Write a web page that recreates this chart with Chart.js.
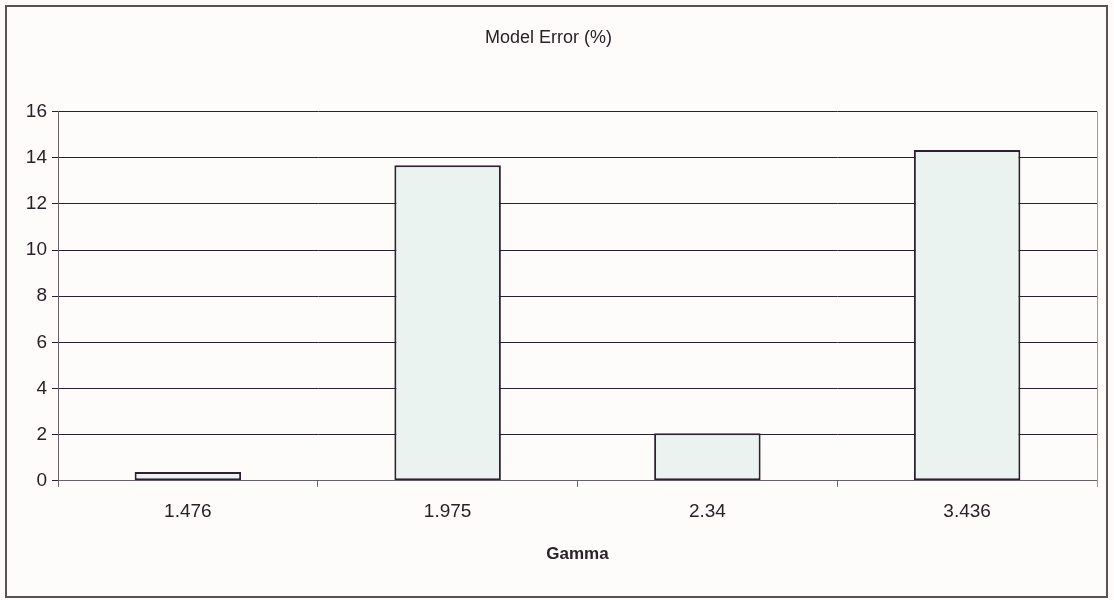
<!DOCTYPE html>
<html>
<head>
<meta charset="utf-8">
<script src="https://cdn.jsdelivr.net/npm/chart.js@4/dist/chart.umd.min.js"></script>
<style>
	html, body { margin: 0; padding: 0; background: #fdfcfb; }
	canvas { display: block; }
</style>
</head>
<body>
<canvas id="errors" width="1114" height="600"></canvas>
<script>
const categories = ['1.476', '1.975', '2.34', '3.436'];
const modelError = [0.38, 13.68, 2.06, 14.34];
const yMin = 0;
const yMax = 16;
const yStep = 2;

const textColor = '#2a2028';
const gridColor = '#2a2030';
const axisColor = '#6a6068';

// background, outer frame and right edge of the plot area
const frame = {
	id: 'frame',
	beforeDraw(chart) {
		const ctx = chart.ctx;
		ctx.save();
		ctx.fillStyle = '#fdfcfb';
		ctx.fillRect(0, 0, chart.width, chart.height);
		ctx.strokeStyle = '#5a5058';
		ctx.lineWidth = 2;
		ctx.strokeRect(6, 6, chart.width - 13, chart.height - 9);
		ctx.restore();
	},
	afterDatasetsDraw(chart) {
		const {ctx, chartArea} = chart;
		ctx.save();
		ctx.strokeStyle = '#a09898';
		ctx.lineWidth = 1;
		ctx.beginPath();
		ctx.moveTo(chartArea.right + 0.5, chartArea.top);
		ctx.lineTo(chartArea.right + 0.5, chartArea.bottom + 6);
		ctx.stroke();
		ctx.restore();
	}
};

const data_errors = {
	labels: categories,
	datasets: [
		{
			label: 'Model Error (%)',
			data: modelError,
			backgroundColor: '#eaf3f0',
			borderColor: '#2e2030',
			borderWidth: 2,
			borderSkipped: false,
			barPercentage: 0.41,
			categoryPercentage: 1.0,
		},
	]
};

const config_errors = {
	type: 'bar',
	data: data_errors,
	options: {
		responsive: false,
		animation: false,
		layout: {
			padding: { left: 0, right: 17, top: 0, bottom: 0 }
		},
		plugins: {
			legend: { display: false },
			tooltip: { enabled: false },
			title: {
				display: true,
				text: 'Model Error (%)',
				color: textColor,
				font: { family: 'Liberation Sans, Arial, sans-serif', size: 18, weight: 'normal' },
				padding: { top: 27, bottom: 63 }
			}
		},
		scales: {
			x: {
				grid: {
					display: true,
					drawOnChartArea: false,
					drawTicks: true,
					tickLength: 6,
					color: axisColor,
					offset: true
				},
				border: { display: true, color: axisColor, width: 1 },
				ticks: {
					color: textColor,
					padding: 14,
					font: { family: 'Liberation Sans, Arial, sans-serif', size: 19 }
				},
				title: {
					display: true,
					text: 'Gamma',
					color: textColor,
					font: { family: 'Liberation Sans, Arial, sans-serif', size: 17, weight: 'bold' },
					padding: { top: 7, bottom: 35 }
				}
			},
			y: {
				min: yMin,
				max: yMax,
				afterFit(scale) { scale.width = 58; },
				grid: {
					color: gridColor,
					lineWidth: 1,
					tickLength: 6
				},
				border: { display: true, color: axisColor, width: 1 },
				ticks: {
					stepSize: yStep,
					color: textColor,
					padding: 5,
					font: { family: 'Liberation Sans, Arial, sans-serif', size: 19 }
				}
			}
		}
	},
	plugins: [frame]
};

const errors = new Chart(document.getElementById('errors'), config_errors);
</script>
</body>
</html>
